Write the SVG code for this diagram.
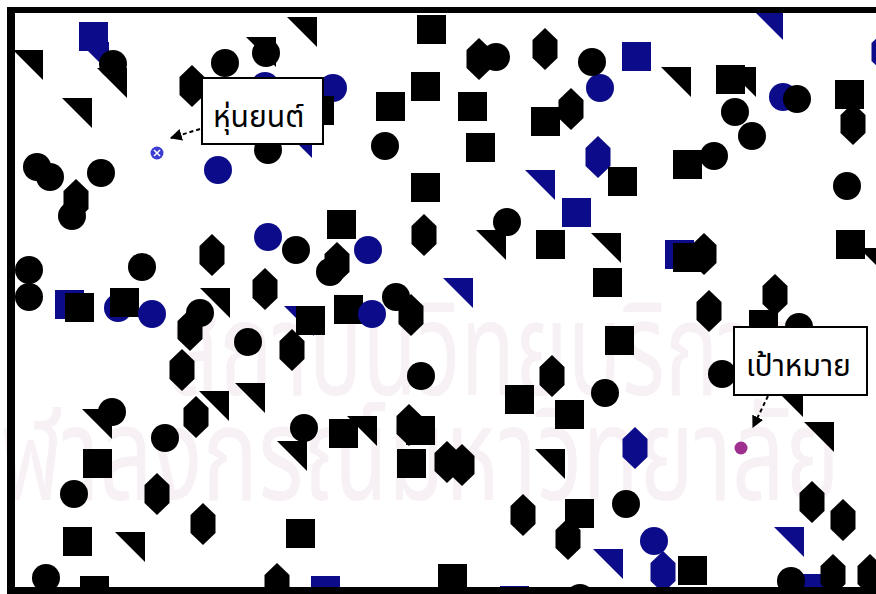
<svg xmlns="http://www.w3.org/2000/svg" width="876" height="594" viewBox="0 0 876 594">
<style>
.k{fill:#000}
.b{fill:#0c0c8a}
.wm{fill:#f7f0f5;font-family:"Noto Sans Thai","Noto Sans","DejaVu Sans",sans-serif;font-size:130px}
.lbl{fill:#fff;stroke:#000;stroke-width:2}
.lt{font-family:"Noto Sans Thai","Noto Sans","DejaVu Sans",sans-serif;font-size:30px;fill:#000}
.con{stroke:#000;stroke-width:2;stroke-dasharray:4 3;fill:none}
</style>
<defs>
<circle id="c" r="14"/>
<rect id="s" width="29" height="29"/>
<polygon id="h" points="0,-21 12.5,-9 12.5,9 0,21 -12.5,9 -12.5,-9"/>
<polygon id="t" points="0,0 30,0 30,30"/>
<marker id="ah" viewBox="0 0 10 10" refX="9" refY="5" markerWidth="6" markerHeight="6" orient="auto-start-reverse"><path d="M0,0 L10,5 L0,10 z" fill="#000"/></marker>
</defs>
<rect width="876" height="594" fill="#fff"/>
<g id="watermark">
<text class="wm" x="168" y="395" textLength="630" lengthAdjust="spacingAndGlyphs">สถาบันวิทยบริการ</text>
<text class="wm" x="0" y="500" textLength="840" lengthAdjust="spacingAndGlyphs">ฬาลงกรณ์มหาวิทยาลัย</text>
</g>
<g id="obstacles-blue-back">
<use href="#t" class="b" x="79" y="42"/>
<use href="#s" class="b" x="79" y="22"/>
<use href="#c" class="b" x="265" y="86"/>
<use href="#t" class="b" x="282" y="128"/>
<use href="#c" class="b" x="333" y="88"/>
<use href="#c" class="b" x="600" y="88"/>
<use href="#s" class="b" x="622" y="42"/>
<use href="#c" class="b" x="783" y="97"/>
<use href="#h" class="b" x="884" y="52"/>
<use href="#t" class="b" x="753" y="10"/>
<use href="#h" class="b" x="598" y="157"/>
<use href="#t" class="b" x="525" y="170"/>
<use href="#s" class="b" x="562" y="198"/>
<use href="#c" class="b" x="218" y="170"/>
<use href="#s" class="b" x="55" y="290"/>
<use href="#c" class="b" x="118" y="308"/>
<use href="#c" class="b" x="268" y="237"/>
<use href="#c" class="b" x="368" y="250"/>
<use href="#t" class="b" x="284" y="306"/>
<use href="#t" class="b" x="443" y="278"/>
<use href="#s" class="b" x="665" y="240"/>
<use href="#h" class="b" x="635" y="448"/>
<use href="#c" class="b" x="654" y="541"/>
<use href="#h" class="b" x="663" y="572"/>
<use href="#t" class="b" x="593" y="549"/>
<use href="#t" class="b" x="774" y="527"/>
<use href="#s" class="b" x="311" y="576"/>
<use href="#s" class="b" x="500" y="586"/>
<use href="#s" class="b" x="802" y="574"/>
</g>
<g id="obstacles-black">
<use href="#t" class="k" x="13" y="50"/>
<use href="#t" class="k" x="97" y="68"/>
<use href="#c" class="k" x="113" y="64"/>
<use href="#t" class="k" x="62" y="98"/>
<use href="#h" class="k" x="192" y="86"/>
<use href="#c" class="k" x="225" y="63"/>
<use href="#t" class="k" x="246" y="37"/>
<use href="#c" class="k" x="266" y="53"/>
<use href="#t" class="k" x="287" y="17"/>
<use href="#s" class="k" x="305" y="96"/>
<use href="#c" class="k" x="268" y="150"/>
<use href="#s" class="k" x="417" y="15"/>
<use href="#s" class="k" x="376" y="92"/>
<use href="#s" class="k" x="411" y="72"/>
<use href="#c" class="k" x="385" y="146"/>
<use href="#s" class="k" x="411" y="173"/>
<use href="#h" class="k" x="479" y="59"/>
<use href="#c" class="k" x="496" y="57"/>
<use href="#h" class="k" x="545" y="49"/>
<use href="#c" class="k" x="592" y="62"/>
<use href="#s" class="k" x="458" y="92"/>
<use href="#s" class="k" x="531" y="107"/>
<use href="#h" class="k" x="571" y="109"/>
<use href="#s" class="k" x="466" y="133"/>
<use href="#s" class="k" x="608" y="167"/>
<use href="#t" class="k" x="661" y="67"/>
<use href="#s" class="k" x="716" y="65"/>
<use href="#t" class="k" x="726" y="67"/>
<use href="#c" class="k" x="735" y="112"/>
<use href="#c" class="k" x="752" y="136"/>
<use href="#c" class="k" x="797" y="99"/>
<use href="#s" class="k" x="673" y="150"/>
<use href="#c" class="k" x="714" y="156"/>
<use href="#s" class="k" x="835" y="80"/>
<use href="#h" class="k" x="853" y="124"/>
<use href="#c" class="k" x="847" y="186"/>
<use href="#c" class="k" x="37" y="167"/>
<use href="#c" class="k" x="50" y="177"/>
<use href="#c" class="k" x="101" y="173"/>
<use href="#h" class="k" x="76" y="200"/>
<use href="#c" class="k" x="72" y="216"/>
<use href="#c" class="k" x="29" y="270"/>
<use href="#c" class="k" x="29" y="297"/>
<use href="#s" class="k" x="65" y="293"/>
<use href="#s" class="k" x="110" y="288"/>
<use href="#c" class="k" x="142" y="267"/>
<use href="#h" class="k" x="212" y="255"/>
<use href="#t" class="k" x="200" y="288"/>
<use href="#c" class="k" x="200" y="313"/>
<use href="#h" class="k" x="190" y="330"/>
<use href="#h" class="k" x="182" y="370"/>
<use href="#c" class="k" x="296" y="250"/>
<use href="#s" class="k" x="327" y="210"/>
<use href="#h" class="k" x="337" y="263"/>
<use href="#c" class="k" x="330" y="272"/>
<use href="#h" class="k" x="424" y="235"/>
<use href="#h" class="k" x="265" y="289"/>
<use href="#s" class="k" x="334" y="295"/>
<use href="#c" class="k" x="396" y="297"/>
<use href="#h" class="k" x="411" y="315"/>
<use href="#s" class="k" x="296" y="306"/>
<use href="#h" class="k" x="292" y="350"/>
<use href="#c" class="k" x="248" y="342"/>
<use href="#c" class="k" x="421" y="376"/>
<use href="#t" class="k" x="235" y="383"/>
<use href="#t" class="k" x="199" y="391"/>
<use href="#t" class="k" x="476" y="230"/>
<use href="#c" class="k" x="507" y="222"/>
<use href="#s" class="k" x="536" y="230"/>
<use href="#t" class="k" x="591" y="233"/>
<use href="#s" class="k" x="593" y="268"/>
<use href="#s" class="k" x="605" y="326"/>
<use href="#h" class="k" x="552" y="376"/>
<use href="#s" class="k" x="505" y="385"/>
<use href="#c" class="k" x="605" y="393"/>
<use href="#s" class="k" x="673" y="243"/>
<use href="#h" class="k" x="704" y="254"/>
<use href="#h" class="k" x="709" y="311"/>
<use href="#s" class="k" x="836" y="230"/>
<use href="#t" class="k" x="859" y="248"/>
<use href="#h" class="k" x="775" y="295"/>
<use href="#s" class="k" x="749" y="310"/>
<use href="#c" class="k" x="799" y="327"/>
<use href="#c" class="k" x="722" y="374"/>
<use href="#t" class="k" x="82" y="409"/>
<use href="#c" class="k" x="112" y="412"/>
<use href="#h" class="k" x="196" y="417"/>
<use href="#c" class="k" x="165" y="438"/>
<use href="#s" class="k" x="83" y="449"/>
<use href="#c" class="k" x="74" y="494"/>
<use href="#h" class="k" x="157" y="494"/>
<use href="#h" class="k" x="203" y="524"/>
<use href="#s" class="k" x="63" y="527"/>
<use href="#t" class="k" x="115" y="532"/>
<use href="#c" class="k" x="46" y="578"/>
<use href="#s" class="k" x="80" y="576"/>
<use href="#t" class="k" x="277" y="441"/>
<use href="#c" class="k" x="304" y="428"/>
<use href="#s" class="k" x="329" y="419"/>
<use href="#t" class="k" x="347" y="416"/>
<use href="#h" class="k" x="409" y="425"/>
<use href="#s" class="k" x="406" y="416"/>
<use href="#s" class="k" x="397" y="449"/>
<use href="#h" class="k" x="447" y="462"/>
<use href="#h" class="k" x="462" y="465"/>
<use href="#s" class="k" x="286" y="519"/>
<use href="#h" class="k" x="277" y="584"/>
<use href="#s" class="k" x="438" y="564"/>
<use href="#s" class="k" x="555" y="400"/>
<use href="#t" class="k" x="535" y="449"/>
<use href="#h" class="k" x="523" y="515"/>
<use href="#s" class="k" x="565" y="499"/>
<use href="#h" class="k" x="568" y="539"/>
<use href="#c" class="k" x="626" y="504"/>
<use href="#c" class="k" x="580" y="598"/>
<use href="#s" class="k" x="678" y="556"/>
<use href="#t" class="k" x="773" y="387"/>
<use href="#t" class="k" x="804" y="422"/>
<use href="#h" class="k" x="812" y="502"/>
<use href="#h" class="k" x="843" y="520"/>
<use href="#c" class="k" x="791" y="581"/>
<use href="#h" class="k" x="833" y="575"/>
<use href="#h" class="k" x="870" y="575"/>
</g>
<g id="obstacles-blue-front">
<use href="#c" class="b" x="152" y="314"/>
<use href="#c" class="b" x="372" y="314"/>
</g>
<g id="frame" fill="#000">
<rect x="7" y="7" width="869" height="6"/>
<rect x="7" y="7" width="8" height="587"/>
<rect x="7" y="587" width="869" height="7"/>
</g>
<g id="robot">
<circle cx="157" cy="153" r="6.5" fill="#3c3cd2"/>
<path d="M154,150 L160,156 M160,150 L154,156" stroke="#fff" stroke-width="1.5"/>
</g>
<g id="target">
<circle cx="741" cy="448" r="6.5" fill="#a0308f"/>
</g>
<g id="connectors">
<line class="con" x1="200" y1="129" x2="171" y2="138" marker-end="url(#ah)"/>
<line class="con" x1="768" y1="396" x2="753" y2="427" marker-end="url(#ah)"/>
</g>
<g id="label-robot">
<rect class="lbl" x="202" y="78" width="121" height="66"/>
<text class="lt" x="213" y="127">หุ่นยนต์</text>
</g>
<g id="label-target">
<rect class="lbl" x="734" y="327" width="133" height="68"/>
<text class="lt" x="746" y="376">เป้าหมาย</text>
</g>
</svg>
